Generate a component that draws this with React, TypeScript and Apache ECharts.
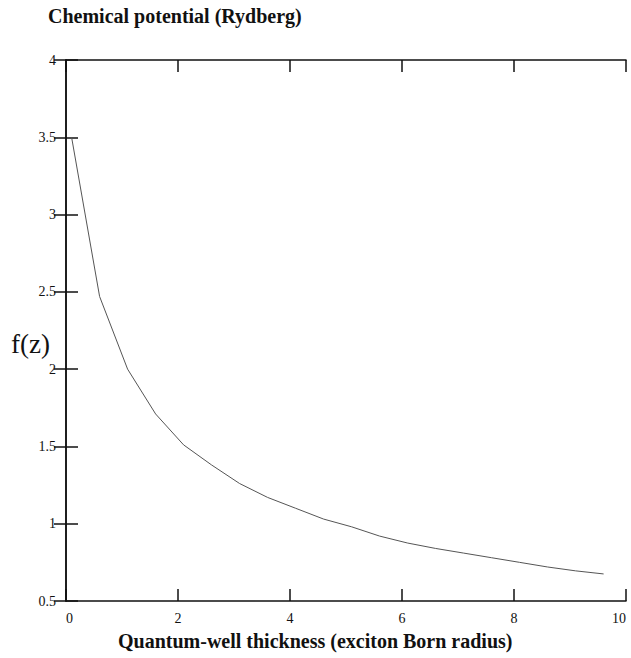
import React, { useEffect, useRef } from "react";
import * as echarts from "echarts";

const xValues = [0.1, 0.6, 1.1, 1.6, 2.1, 2.6, 3.1, 3.6, 4.1, 4.6, 5.1, 5.6, 6.1, 6.6, 7.1, 7.6, 8.1, 8.6, 9.1, 9.6];
const fValues = [3.5, 2.47, 2.0, 1.71, 1.51, 1.38, 1.26, 1.17, 1.1, 1.03, 0.98, 0.92, 0.875, 0.84, 0.81, 0.78, 0.75, 0.72, 0.695, 0.675];
const titleText = "Chemical potential (Rydberg)";
const xTitleText = "Quantum-well thickness (exciton Born radius)";
const yTitleText = "f(z)";

const SERIF = "'Liberation Serif', 'DejaVu Serif', serif";

export default function App() {
  const ref = useRef<HTMLDivElement>(null);
  useEffect(() => {
    if (!ref.current) return;
    const chart = echarts.init(ref.current, null, { renderer: "svg" });
    const axisLine = { show: true, lineStyle: { color: "#111", width: 1.5 } };
    const axisTick = { show: true, inside: true, length: 12, lineStyle: { color: "#111", width: 1.5 } };
    chart.setOption({
      animation: false,
      backgroundColor: "#fff",
      grid: { left: 66, right: 5, top: 60, bottom: 57, containLabel: false },
      graphic: [
        { type: "text", left: 48, top: 6, style: { text: titleText, font: `bold 20px ${SERIF}`, fill: "#111" } },
        { type: "text", left: 118, top: 631, style: { text: xTitleText, font: `bold 20px ${SERIF}`, fill: "#111" } },
        { type: "text", left: 11, top: 330, style: { text: yTitleText, font: `27px ${SERIF}`, fill: "#111" } },
      ],
      xAxis: [
        {
          type: "value", min: 0, max: 10, interval: 2, position: "bottom",
          axisLine, axisTick, splitLine: { show: false },
          axisLabel: {
            fontFamily: SERIF, fontSize: 14, color: "#111", margin: 10,
            alignMinLabel: "left", alignMaxLabel: "right",
          },
        },
        {
          type: "value", min: 0, max: 10, interval: 2, position: "top",
          axisLine, axisTick, splitLine: { show: false }, axisLabel: { show: false },
        },
      ],
      yAxis: [
        {
          type: "value", min: 0.5, max: 4, interval: 0.5, position: "left",
          axisLine, axisTick, splitLine: { show: false },
          axisLabel: { fontFamily: SERIF, fontSize: 14, color: "#111", margin: 10 },
        },
        {
          type: "value", min: 0.5, max: 4, interval: 0.5, position: "right",
          axisLine, axisTick, splitLine: { show: false }, axisLabel: { show: false },
        },
      ],
      series: [
        {
          type: "line",
          data: xValues.map((x, i) => [x, fValues[i]]),
          showSymbol: false,
          lineStyle: { color: "#555", width: 1 },
          xAxisIndex: 0, yAxisIndex: 0,
        },
      ],
    });
    return () => chart.dispose();
  }, []);
  return <div ref={ref} style={{ width: 631, height: 658, position: "absolute", left: 0, top: 0 }} />;
}
